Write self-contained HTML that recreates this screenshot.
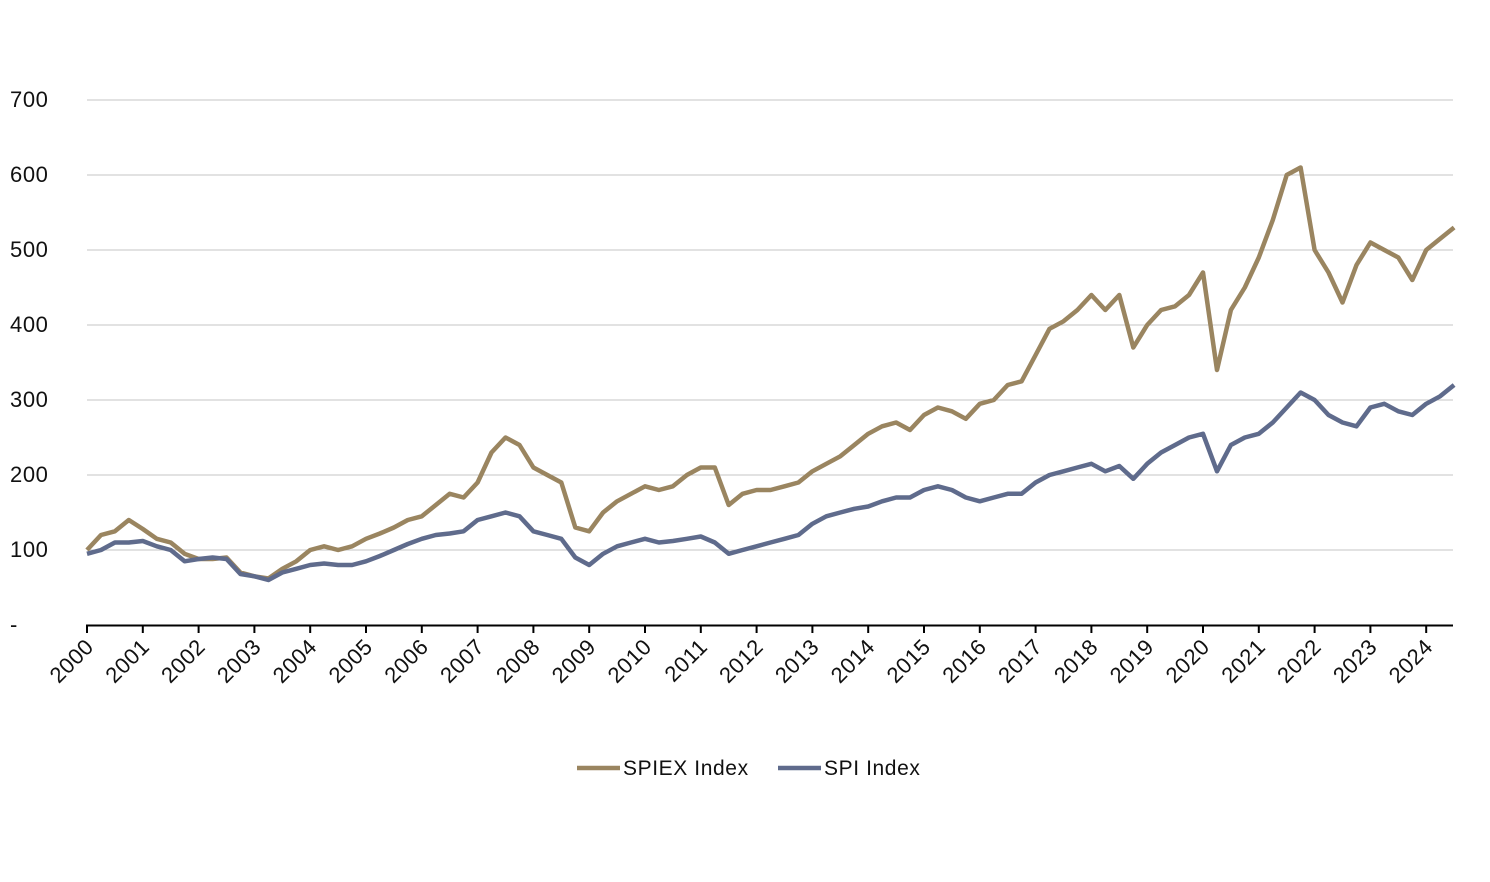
<!DOCTYPE html>
<html><head><meta charset="utf-8"><style>
body{margin:0;background:#fff;}
svg text{font-family:"Liberation Sans",sans-serif;fill:#111;letter-spacing:0.6px;}
</style></head><body>
<svg id="chart" width="1490" height="877" xmlns="http://www.w3.org/2000/svg"></svg>
<script>
const years=[2000,2001,2002,2003,2004,2005,2006,2007,2008,2009,2010,2011,2012,2013,2014,2015,2016,2017,2018,2019,2020,2021,2022,2023,2024];
const yTicks=[0,100,200,300,400,500,600,700];
const yTickLabels=['-','100','200','300','400','500','600','700'];
const startYear=2000, stepYears=0.25;
const spiex=[100,120,125,140, 128,115,110,95, 88,88,90,70, 65,62,75,85, 100,105,100,105, 115,122,130,140, 145,160,175,170, 190,230,250,240, 210,200,190,130, 125,150,165,175, 185,180,185,200, 210,210,160,175, 180,180,185,190, 205,215,225,240, 255,265,270,260, 280,290,285,275, 295,300,320,325, 360,395,405,420, 440,420,440,370, 400,420,425,440, 470,340,420,450, 490,540,600,610, 500,470,430,480, 510,500,490,460, 500,515,530];
const spi=[95,100,110,110, 112,105,100,85, 88,90,88,68, 65,60,70,75, 80,82,80,80, 85,92,100,108, 115,120,122,125, 140,145,150,145, 125,120,115,90, 80,95,105,110, 115,110,112,115, 118,110,95,100, 105,110,115,120, 135,145,150,155, 158,165,170,170, 180,185,180,170, 165,170,175,175, 190,200,205,210, 215,205,212,195, 215,230,240,250, 255,205,240,250, 255,270,290,310, 300,280,270,265, 290,295,285,280, 295,305,320];
const NS='http://www.w3.org/2000/svg';
const svg=document.getElementById('chart');
const x=t=>87+(t-2000)*55.8;
const y=v=>625-v*0.75;
function mk(tag,attrs,parent){const e=document.createElementNS(NS,tag);for(const k in attrs)e.setAttribute(k,attrs[k]);(parent||svg).appendChild(e);return e;}
yTicks.forEach((v,i)=>{
  if(v>0){const g=mk('line',{x1:87,x2:1453,y1:y(v),y2:y(v),stroke:'#c6c6c6','stroke-width':1});
  
  }
  const t=mk('text',{x:10,y:y(v)+7,'font-size':22});
  t.textContent=yTickLabels[i];
  
  
});
const ax=mk('line',{x1:86,x2:1453,y1:625.5,y2:625.5,stroke:'#000','stroke-width':2});


years.forEach(yr=>{
  const tk=mk('line',{x1:x(yr),x2:x(yr),y1:625,y2:633,stroke:'#000','stroke-width':2});
  
  
  const t=mk('text',{x:x(yr)+8,y:648,'font-size':22,'text-anchor':'end',transform:`rotate(-45 ${x(yr)+8} 648)`});
  t.textContent=yr;
  
  
});
function series(arr,color,name){
  const d=arr.map((v,i)=>(i?'L':'M')+x(startYear+i*stepYears).toFixed(1)+','+y(v).toFixed(1)).join('');
  const p=mk('path',{d:d,fill:'none',stroke:color,'stroke-width':4.5,'stroke-linejoin':'round'});
  
  
}
series(spiex,'#9a8560','spiex-line');
series(spi,'#5f6b8c','spi-line');
const l1=mk('line',{x1:577,x2:620,y1:768,y2:768,stroke:'#9a8560','stroke-width':4.5});


const t1=mk('text',{x:623,y:775,'font-size':21});t1.textContent='SPIEX Index';


const l2=mk('line',{x1:778,x2:821,y1:768,y2:768,stroke:'#5f6b8c','stroke-width':4.5});


const t2=mk('text',{x:824,y:775,'font-size':21});t2.textContent='SPI Index';


</script>
</body></html>
